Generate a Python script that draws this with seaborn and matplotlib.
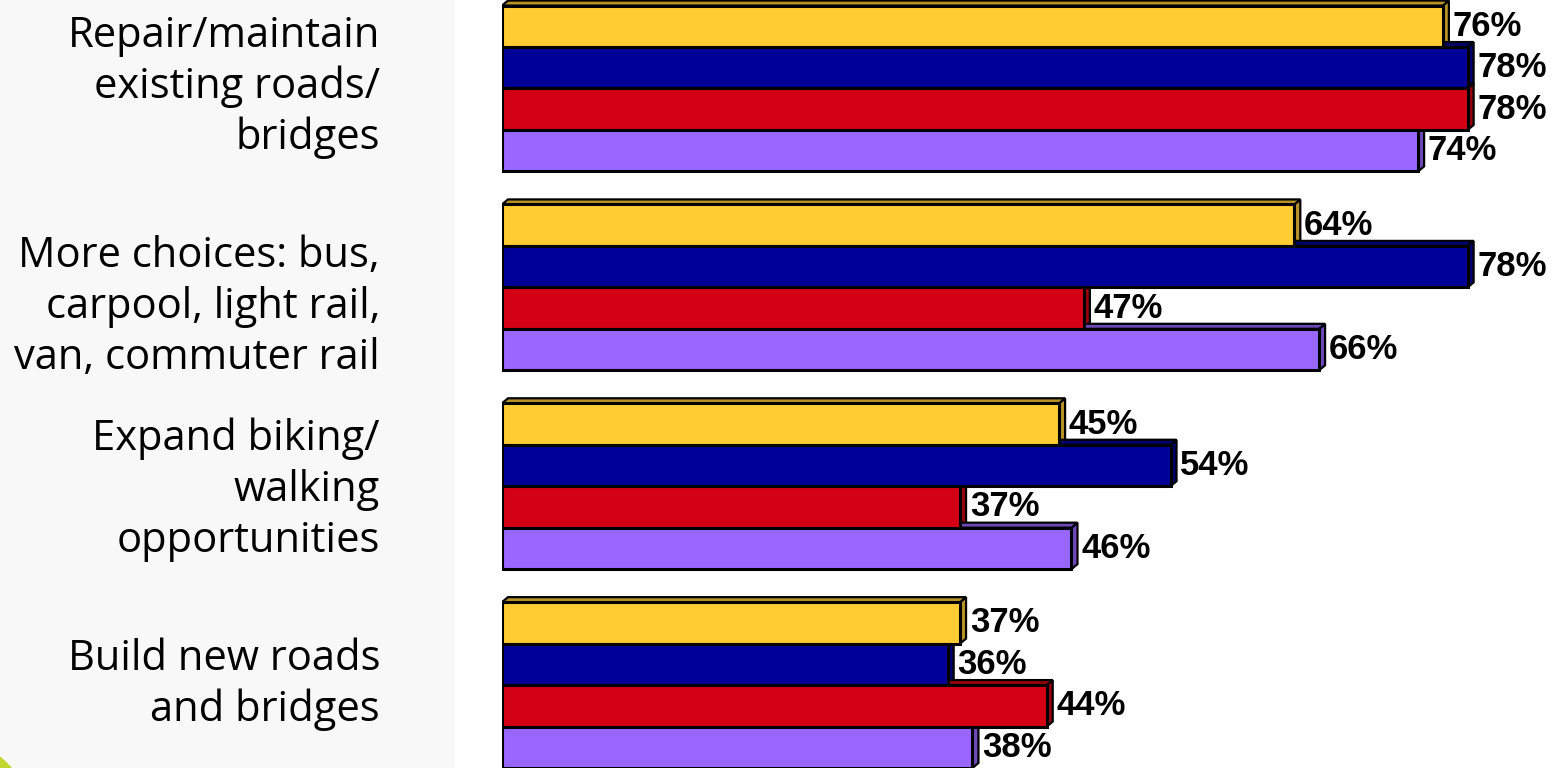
import numpy as np
import pandas as pd
import seaborn as sns
import matplotlib
matplotlib.use("Agg")
import matplotlib.pyplot as plt
from matplotlib.patches import Polygon, Rectangle, Circle
import matplotlib.colors as mcolors

# ---------------- data ----------------
categories = [
    "Repair/maintain\nexisting roads/\nbridges",
    "More choices: bus,\ncarpool, light rail,\nvan, commuter rail",
    "Expand biking/\nwalking\nopportunities",
    "Build new roads\nand bridges",
]
series = ["Series 1", "Series 2", "Series 3", "Series 4"]
values_s1 = [76, 64, 45, 37]
values_s2 = [78, 78, 54, 36]
values_s3 = [78, 47, 37, 44]
values_s4 = [74, 66, 46, 38]
all_values = [values_s1, values_s2, values_s3, values_s4]

colors = ["#FFCC33", "#000099", "#D40014", "#9966FF"]

rows = []
for s, vals in zip(series, all_values):
    for c, v in zip(categories, vals):
        rows.append({"category": c, "series": s, "value": v})
df = pd.DataFrame(rows)

# ---------------- figure ----------------
W, H, DPI = 15.6, 7.68, 100
fig = plt.figure(figsize=(W, H), dpi=DPI)
fig.patch.set_facecolor("white")

# light grey left panel
fig.patches.append(Rectangle((0, 0), 455 / 1560, 1, transform=fig.transFigure,
                             facecolor="#F8F8F8", edgecolor="none", zorder=0))

ax = fig.add_axes([502 / 1560, 0, 1 - 502 / 1560, 1])
ax.set_facecolor("none")

sns.barplot(data=df, y="category", x="value", hue="series", orient="h",
            palette=colors, width=0.834, saturation=1, edgecolor="black",
            linewidth=2.2, legend=False, ax=ax, zorder=3)

px_per_pct = 12.38
xmax = (1560 - 502) / px_per_pct
ax.set_xlim(0, xmax)
ax.set_ylim(3.417, -0.445)
ax.axis("off")

# 3D depth faces
ax_w_px = 1560 - 502
ax_h_px = 768
dx = 6 * xmax / ax_w_px
dy = 5 * (3.417 + 0.445) / ax_h_px
for cont, col in zip(ax.containers, colors):
    dark = np.array(mcolors.to_rgb(col)) * 0.72
    for bar in cont:
        x0, y0 = bar.get_x(), bar.get_y()
        w, h = bar.get_width(), bar.get_height()
        x1 = x0 + w
        ytop, ybot = y0, y0 + h
        right = Polygon([(x1, ytop), (x1 + dx, ytop - dy), (x1 + dx, ybot - dy), (x1, ybot)],
                        closed=True, facecolor=dark, edgecolor="black", linewidth=1.6, zorder=2)
        top = Polygon([(x0, ytop), (x0 + dx, ytop - dy), (x1 + dx, ytop - dy), (x1, ytop)],
                      closed=True, facecolor=dark, edgecolor="black", linewidth=1.6, zorder=2)
        ax.add_patch(right)
        ax.add_patch(top)

# value labels
for cont, vals in zip(ax.containers, all_values):
    ax.bar_label(cont, labels=[f"{v}%" for v in vals], padding=7,
                 fontsize=25, fontweight="bold", family="Liberation Sans",
                 color="black", zorder=5)

# category labels (right-aligned, line by line)
first_baselines = [47, 267, 450, 670]
line_step = 51
for cat, b0 in zip(categories, first_baselines):
    for i, line in enumerate(cat.split("\n")):
        ypx = b0 + i * line_step
        fig.text(380 / 1560, 1 - ypx / 768, line, ha="right", va="baseline",
                 fontsize=30, family="Open Sans", color="black")

# green corner blob
fig.patches.append(Circle((-60, -62), 95, transform=None,
                          facecolor="#C2D62E", edgecolor="none", zorder=1))

fig.savefig("out.png", dpi=DPI)
